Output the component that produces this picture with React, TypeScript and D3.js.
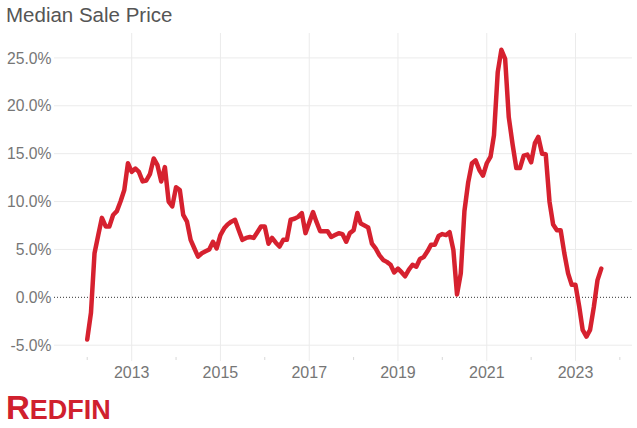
import React from "react";
import * as d3 from "d3";

const startYear = 2012;
const values: number[] = [
  // 2012
  -4.4, -1.6, 4.6, 6.5, 8.3, 7.4, 7.4, 8.6, 9.0, 10.0, 11.2, 14.0,
  // 2013
  13.1, 13.45, 13.1, 12.1, 12.2, 12.9, 14.5, 13.8, 12.1, 13.6, 10.0, 9.5,
  // 2014
  11.5, 11.2, 8.6, 7.9, 6.0, 5.1, 4.25, 4.6, 4.8, 5.0, 5.8, 5.1,
  // 2015
  6.5, 7.2, 7.6, 7.9, 8.1, 7.0, 6.0, 6.2, 6.3, 6.2, 6.8, 7.4,
  // 2016
  7.4, 5.6, 6.2, 5.7, 5.3, 6.0, 6.0, 8.1, 8.2, 8.4, 8.8, 6.7,
  // 2017
  7.8, 8.9, 7.9, 6.9, 6.9, 6.9, 6.3, 6.5, 6.7, 6.6, 5.8, 6.7,
  // 2018
  7.0, 8.8, 7.7, 7.5, 7.3, 5.6, 5.1, 4.4, 3.9, 3.7, 3.4, 2.6,
  // 2019
  3.0, 2.6, 2.2, 2.9, 3.4, 3.2, 4.0, 4.2, 4.8, 5.5, 5.5, 6.4,
  // 2020
  6.6, 6.5, 6.8, 4.95, 0.3, 2.5, 9.0, 12.0, 14.0, 14.3, 13.3, 12.7,
  // 2021
  14.0, 14.7, 16.9, 23.5, 25.85, 24.9, 18.8, 16.0, 13.5, 13.5, 14.8, 14.9,
  // 2022
  14.1, 16.1, 16.75, 15.0, 14.95, 10.0, 7.6, 7.0, 7.0, 4.6, 2.5, 1.3,
  // 2023
  1.3, -1.0, -3.4, -4.1, -3.4, -1.0, 1.8, 3.0,
];
const yTicks = [-5, 0, 5, 10, 15, 20, 25];
const yearTicks = [2012, 2013, 2014, 2015, 2016, 2017, 2018, 2019, 2020, 2021, 2022, 2023, 2024];
const labeledYears = [2013, 2015, 2017, 2019, 2021, 2023];
const title = "Median Sale Price";

const W = 637;
const H = 428;
const FONT = "'Liberation Sans', Arial, Helvetica, sans-serif";

export default function App() {
  const x = d3
    .scaleTime()
    .domain([new Date(2013, 0, 1), new Date(2023, 0, 1)])
    .range([131.7, 575.5]);
  const y = d3.scaleLinear().domain([-5, 25]).range([345.2, 57.9]);

  const data = values.map((v, i) => ({ date: new Date(startYear, i, 1), v }));
  const line = d3
    .line<{ date: Date; v: number }>()
    .x((d) => x(d.date))
    .y((d) => y(d.v));

  const left = 54;
  const right = 632;
  const top = 33;
  const gridBottom = 361;

  return (
    <svg
      width={W}
      height={H}
      style={{ position: "absolute", left: 0, top: 0, background: "#fff" }}
      fontFamily={FONT}
    >
      <rect width={W} height={H} fill="#fff" />
      <text x={6} y={22} fontSize={20.5} fill="#555">
        {title}
      </text>

      {/* horizontal grid */}
      {yTicks.map((t) => (
        <g key={t}>
          {t !== 0 && (
            <line x1={left} x2={right} y1={y(t)} y2={y(t)} stroke="#ebebeb" strokeWidth={1} />
          )}
          <text
            x={51.5}
            y={y(t)}
            dy="0.36em"
            textAnchor="end"
            fontSize={15.7}
            fill="#767676"
          >
            {t.toFixed(1) + "%"}
          </text>
        </g>
      ))}

      {/* vertical grid + ticks */}
      {yearTicks.map((yr) => {
        const xx = x(new Date(yr, 0, 1));
        const labeled = labeledYears.includes(yr);
        return (
          <g key={yr}>
            {labeled ? (
              <line x1={xx} x2={xx} y1={top} y2={gridBottom} stroke="#ebebeb" strokeWidth={1} />
            ) : (
              <line x1={xx} x2={xx} y1={357} y2={360} stroke="#d8d8d8" strokeWidth={1} />
            )}
            {labeled && (
              <text x={xx} y={378} textAnchor="middle" fontSize={16} fill="#767676">
                {yr}
              </text>
            )}
          </g>
        );
      })}

      {/* zero line */}
      <line
        x1={left}
        x2={right}
        y1={y(0)}
        y2={y(0)}
        stroke="#333"
        strokeWidth={1}
        strokeDasharray="1,2"
      />

      <path
        d={line(data) || ""}
        fill="none"
        stroke="#d6212f"
        strokeWidth={4.5}
        strokeLinejoin="round"
        strokeLinecap="round"
      />

      {/* logo */}
      <text x={6} y={419} fill="#d0202e" fontWeight="bold">
        <tspan fontSize={33}>R</tspan>
        <tspan fontSize={27}>EDFIN</tspan>
      </text>
    </svg>
  );
}
